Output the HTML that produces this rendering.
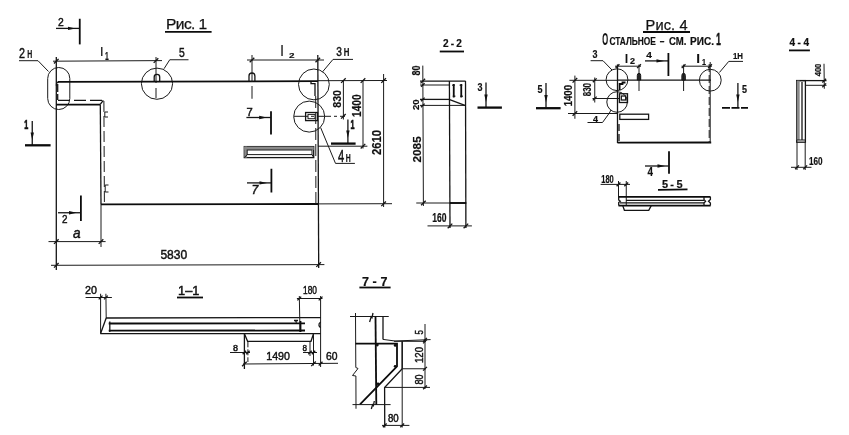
<!DOCTYPE html>
<html><head><meta charset="utf-8"><title>Рис. 1</title>
<style>
html,body{margin:0;padding:0;background:#fff;}
body{width:849px;height:435px;overflow:hidden;}
svg{display:block;filter:grayscale(1);}
text{font-family:"Liberation Sans","DejaVu Sans",sans-serif;fill:#111;stroke:#111;stroke-width:0.45px;}
.t{stroke:#1a1a1a;stroke-width:1;fill:none;}
.m{stroke:#151515;stroke-width:1.3;fill:none;}
.k{stroke:#0c0c0c;stroke-width:1.8;fill:none;}
.kk{stroke:#0c0c0c;stroke-width:2.3;fill:none;}
.f{fill:#111;stroke:none;}
.fk{fill:#333;stroke:#111;stroke-width:1;}
.g{fill:#8a8a8a;stroke:none;}
</style></head>
<body>
<svg width="849" height="435" viewBox="0 0 849 435">
<rect x="0" y="0" width="849" height="435" fill="#fff"/>
<g style="opacity:0.999">
<text x="166" y="29.4" textLength="41.25" lengthAdjust="spacing" style="font-size:15.55px;stroke-width:0.25px;">Рис. 1</text>
<line class="k" x1="165" y1="31.9" x2="211.6" y2="31.9"/>
<text x="58" y="25.6" textLength="5.75" lengthAdjust="spacingAndGlyphs" style="font-size:11.82px;">2</text>
<line class="m" x1="56" y1="28.4" x2="79.5" y2="28.4"/>
<path class="f" d="M68.0,26.7 L75.5,28.4 L68.0,30.099999999999998 Z"/>
<line class="k" x1="79.75" y1="18.75" x2="79.75" y2="44.4"/>
<text x="19" y="57.8" textLength="6.00" lengthAdjust="spacingAndGlyphs" style="font-size:14.60px;">2</text>
<text x="27.2" y="57.8" textLength="5.00" lengthAdjust="spacingAndGlyphs" style="font-size:11.39px;font-weight:bold;stroke-width:0.2px;">Н</text>
<path class="t" d="M19,60.7 L38,60.7 L48.5,71.5"/>
<rect class="t" x="47.7" y="67.5" width="22.1" height="42" rx="11" ry="11"/>
<line class="m" x1="56.3" y1="57" x2="56.3" y2="270"/>
<line class="t" x1="53" y1="61.2" x2="162" y2="60.6"/>
<line class="m" x1="54.0" y1="63.5" x2="58.599999999999994" y2="58.900000000000006"/>
<line class="m" x1="153.7" y1="62.9" x2="158.3" y2="58.300000000000004"/>
<text x="100.5" y="56.25" textLength="2.50" lengthAdjust="spacingAndGlyphs" style="font-size:13.00px;font-weight:bold;stroke-width:0.2px;">l</text>
<text x="105" y="60" textLength="3.75" lengthAdjust="spacingAndGlyphs" style="font-size:10.22px;font-weight:bold;stroke-width:0.2px;">1</text>
<circle class="t" cx="157" cy="83.7" r="15.6"/>
<line class="t" x1="156" y1="57" x2="156" y2="83"/>
<line class="t" x1="156" y1="88" x2="156" y2="98"/>
<path class="m" d="M154.2,82 L154.2,77 Q154.2,74.4 157,74.4 Q159.7,74.4 159.7,77 L159.7,82"/>
<text x="179" y="56.5" textLength="5.75" lengthAdjust="spacingAndGlyphs" style="font-size:13.14px;">5</text>
<path class="t" d="M188.5,59.75 L169.75,59.75 L164,68.75"/>
<line class="k" x1="58" y1="81.8" x2="318" y2="81.2"/>
<path class="m" d="M56.5,86 L56.5,84 Q56.5,82 59,81.8"/>
<line class="m" x1="58" y1="100.3" x2="102" y2="100.3" stroke-dasharray="12 4"/>
<line class="m" x1="57.7" y1="84" x2="57.7" y2="100" stroke-dasharray="8 2"/>
<line class="k" x1="56.3" y1="104.7" x2="100" y2="104.7"/>
<line class="m" x1="100" y1="104.7" x2="103.3" y2="100.3"/>
<line class="m" x1="100.3" y1="104.7" x2="101" y2="204.4"/>
<line class="t" x1="103.9" y1="101" x2="104.4" y2="204" stroke-dasharray="11 4"/>
<path class="t" d="M108,112 L104.8,112 L104.8,117 L108,117"/>
<path class="t" d="M108.5,185 L105.2,185 L105.2,192 L108.5,192"/>
<text x="24.3" y="129" textLength="4.00" lengthAdjust="spacingAndGlyphs" style="font-size:13.14px;font-weight:bold;stroke-width:0.2px;stroke-width:0.7px;">1</text>
<line class="m" x1="32.25" y1="121" x2="32.25" y2="145"/>
<path class="f" d="M30.55,132.5 L32.25,140 L33.95,132.5 Z"/>
<line class="kk" x1="25" y1="145.3" x2="50.6" y2="145.3"/>
<line class="k" x1="101" y1="204.3" x2="318.3" y2="204"/>
<line class="t" x1="318.3" y1="203.9" x2="392" y2="203.7"/>
<line class="k" x1="80.9" y1="195.6" x2="80.9" y2="221"/>
<line class="m" x1="58" y1="212.75" x2="80.5" y2="212.75"/>
<path class="f" d="M69.0,211.05 L76.5,212.75 L69.0,214.45 Z"/>
<text x="62" y="223" textLength="5.50" lengthAdjust="spacingAndGlyphs" style="font-size:11.68px;">2</text>
<text x="73" y="238" textLength="7.60" lengthAdjust="spacingAndGlyphs" style="font-size:14.50px;font-style:italic;">a</text>
<line class="t" x1="48.5" y1="241.6" x2="105.6" y2="241.6"/>
<line class="m" x1="54.0" y1="243.9" x2="58.599999999999994" y2="239.29999999999998"/>
<line class="m" x1="98.7" y1="243.9" x2="103.3" y2="239.29999999999998"/>
<line class="t" x1="101" y1="204.4" x2="101" y2="247"/>
<line class="t" x1="51" y1="265.3" x2="324.4" y2="264.6"/>
<line class="m" x1="54.0" y1="267.6" x2="58.599999999999994" y2="263.0"/>
<line class="m" x1="316.3" y1="266.90000000000003" x2="320.90000000000003" y2="262.3"/>
<text x="160.4" y="259.4" textLength="26.85" lengthAdjust="spacingAndGlyphs" style="font-size:12.85px;">5830</text>
<line class="m" x1="317.8" y1="55" x2="318.7" y2="268"/>
<line class="t" x1="315.7" y1="96" x2="315.9" y2="204" stroke-dasharray="12 4"/>
<line class="m" x1="315" y1="83" x2="315" y2="96"/>
<path class="m" d="M311,82 L311,83.6 L315,83.6"/>
<line class="t" x1="247" y1="60" x2="324" y2="60"/>
<line class="m" x1="249.7" y1="62.3" x2="254.3" y2="57.7"/>
<line class="m" x1="315.5" y1="62.3" x2="320.1" y2="57.7"/>
<line class="t" x1="252" y1="55" x2="252" y2="82"/>
<line class="t" x1="252" y1="86" x2="252" y2="98.75"/>
<path class="m" d="M249,81.5 L249,76 Q249,73 252,73 Q254.9,73 254.9,76 L254.9,81.5"/>
<text x="280.7" y="56.25" textLength="2.60" lengthAdjust="spacingAndGlyphs" style="font-size:15.50px;font-weight:bold;stroke-width:0.2px;">l</text>
<text x="289" y="58" textLength="5.50" lengthAdjust="spacingAndGlyphs" style="font-size:8.03px;font-weight:bold;stroke-width:0.2px;">2</text>
<circle class="t" cx="313.9" cy="84.4" r="15.4"/>
<text x="336.25" y="56.25" textLength="5.65" lengthAdjust="spacingAndGlyphs" style="font-size:13.65px;">3</text>
<text x="343.75" y="56.25" textLength="5.65" lengthAdjust="spacingAndGlyphs" style="font-size:10.00px;font-weight:bold;stroke-width:0.2px;">Н</text>
<path class="t" d="M353,59.4 L333,59.4 L322.5,71.9"/>
<circle class="t" cx="309.2" cy="116.6" r="15.5"/>
<line class="t" x1="294" y1="116.3" x2="345" y2="116.3" stroke-dasharray="14 3 3 3"/>
<rect class="m" x="305.6" y="112.5" width="11.9" height="8.1"/>
<rect class="t" x="308" y="114.4" width="7" height="4.3"/>
<path class="t" d="M320.6,127.5 L335.5,163.4 L354.9,163.4"/>
<text x="338" y="161.6" textLength="6.25" lengthAdjust="spacingAndGlyphs" style="font-size:16.50px;">4</text>
<text x="345.8" y="161.6" textLength="5.00" lengthAdjust="spacingAndGlyphs" style="font-size:11.09px;font-weight:bold;stroke-width:0.2px;">Н</text>
<line class="t" x1="318" y1="80.7" x2="387" y2="80.5"/>
<line class="t" x1="343.4" y1="80.6" x2="343.4" y2="119.5"/>
<line class="m" x1="341.09999999999997" y1="82.89999999999999" x2="345.7" y2="78.3"/>
<line class="m" x1="341.09999999999997" y1="118.6" x2="345.7" y2="114.0"/>
<line class="t" x1="363" y1="80.6" x2="363" y2="148.5"/>
<line class="m" x1="360.7" y1="82.89999999999999" x2="365.3" y2="78.3"/>
<line class="m" x1="360.7" y1="148.5" x2="365.3" y2="143.89999999999998"/>
<line class="t" x1="383.6" y1="74" x2="383.6" y2="207"/>
<line class="m" x1="381.3" y1="82.89999999999999" x2="385.90000000000003" y2="78.3"/>
<line class="m" x1="381.3" y1="206.10000000000002" x2="385.90000000000003" y2="201.5"/>
<line class="t" x1="318" y1="146.2" x2="367.4" y2="146.2"/>
<text transform="translate(340.6,107.75) rotate(-90)" x="0" y="0" textLength="17.75" lengthAdjust="spacingAndGlyphs" style="font-size:11.09px;font-weight:bold;stroke-width:0.2px;">830</text>
<text transform="translate(360.6,116.9) rotate(-90)" x="0" y="0" textLength="22.50" lengthAdjust="spacingAndGlyphs" style="font-size:12.19px;font-weight:bold;stroke-width:0.2px;">1400</text>
<text transform="translate(381.25,155) rotate(-90)" x="0" y="0" textLength="25.00" lengthAdjust="spacingAndGlyphs" style="font-size:12.04px;font-weight:bold;stroke-width:0.2px;">2610</text>
<line class="m" x1="347.9" y1="119.4" x2="347.9" y2="143"/>
<path class="f" d="M346.2,130.5 L347.9,138 L349.59999999999997,130.5 Z"/>
<text x="350.6" y="129.4" textLength="4.00" lengthAdjust="spacingAndGlyphs" style="font-size:12.85px;font-weight:bold;stroke-width:0.2px;stroke-width:0.7px;">1</text>
<line class="kk" x1="331" y1="143.6" x2="355.6" y2="143.6"/>
<rect class="m" x="244.3" y="146.6" width="69.4" height="11"/>
<rect class="g" x="244.3" y="146.6" width="69.4" height="3.3"/>
<rect class="g" x="244.3" y="146.6" width="2.8" height="11"/>
<rect class="t" x="247.2" y="150" width="64.8" height="4.6"/>
<line class="t" x1="244.3" y1="157.6" x2="247.2" y2="154.6"/>
<line class="t" x1="313.7" y1="157.6" x2="312" y2="154.6"/>
<text x="246.4" y="115.6" textLength="6.20" lengthAdjust="spacingAndGlyphs" style="font-size:11.09px;">7</text>
<line class="m" x1="246.4" y1="117.5" x2="270.7" y2="117.5"/>
<path class="f" d="M259.2,115.8 L266.7,117.5 L259.2,119.2 Z"/>
<line class="k" x1="271" y1="111.25" x2="271" y2="134.4"/>
<line class="k" x1="271.4" y1="168.75" x2="271.4" y2="192.5"/>
<line class="m" x1="247" y1="182.9" x2="271" y2="182.9"/>
<path class="f" d="M259.5,181.20000000000002 L267,182.9 L259.5,184.6 Z"/>
<text x="251.4" y="193.5" textLength="6.85" lengthAdjust="spacingAndGlyphs" style="font-size:12.41px;font-style:italic;">7</text>
<text x="443" y="46.9" textLength="18.90" lengthAdjust="spacing" style="font-size:10.07px;font-weight:bold;stroke-width:0.2px;">2-2</text>
<line class="k" x1="439.75" y1="51.5" x2="464" y2="51.5"/>
<text transform="translate(420,75.6) rotate(-90)" x="0" y="0" textLength="10.00" lengthAdjust="spacingAndGlyphs" style="font-size:11.82px;font-weight:bold;stroke-width:0.2px;">80</text>
<text transform="translate(418.5,110) rotate(-90)" x="0" y="0" textLength="10.60" lengthAdjust="spacingAndGlyphs" style="font-size:9.64px;font-weight:bold;stroke-width:0.2px;">20</text>
<text transform="translate(420.6,162.5) rotate(-90)" x="0" y="0" textLength="26.25" lengthAdjust="spacingAndGlyphs" style="font-size:11.82px;font-weight:bold;stroke-width:0.2px;">2085</text>
<line class="t" x1="422.8" y1="65.6" x2="423.4" y2="206"/>
<line class="m" x1="420" y1="81.1" x2="465.6" y2="81.1"/>
<line class="m" x1="420.5" y1="83.39999999999999" x2="425.1" y2="78.8"/>
<line class="t" x1="420" y1="85" x2="449" y2="85"/>
<line class="m" x1="421.0" y1="86.8" x2="424.6" y2="83.2"/>
<line class="m" x1="420" y1="99.4" x2="449" y2="99.4"/>
<line class="m" x1="421.0" y1="101.2" x2="424.6" y2="97.60000000000001"/>
<line class="t" x1="420" y1="105.4" x2="465.6" y2="105.4"/>
<line class="m" x1="421.0" y1="107.2" x2="424.6" y2="103.60000000000001"/>
<line class="m" x1="449.4" y1="81" x2="450" y2="228"/>
<line class="m" x1="465.5" y1="81" x2="465.9" y2="228"/>
<line class="m" x1="449" y1="99.4" x2="465.6" y2="105.6"/>
<line class="k" x1="453.75" y1="84" x2="453.75" y2="97.5"/>
<line class="m" x1="452.15" y1="85.2" x2="454.75" y2="85.2"/>
<line class="m" x1="452.75" y1="96.2" x2="455.35" y2="96.2"/>
<line class="k" x1="461.25" y1="84" x2="461.25" y2="97.5"/>
<line class="m" x1="459.65" y1="85.2" x2="462.25" y2="85.2"/>
<line class="m" x1="460.25" y1="96.2" x2="462.85" y2="96.2"/>
<line class="t" x1="416.25" y1="203" x2="466.6" y2="203"/>
<line class="k" x1="449.75" y1="203" x2="466" y2="203"/>
<line class="m" x1="421.09999999999997" y1="205.3" x2="425.7" y2="200.7"/>
<line class="t" x1="427.5" y1="225.9" x2="471.9" y2="225.9"/>
<line class="m" x1="447.7" y1="228.20000000000002" x2="452.3" y2="223.6"/>
<line class="m" x1="463.59999999999997" y1="228.20000000000002" x2="468.2" y2="223.6"/>
<text x="432.25" y="222.25" textLength="14.25" lengthAdjust="spacingAndGlyphs" style="font-size:12.04px;font-weight:bold;stroke-width:0.2px;">160</text>
<text x="477.5" y="90.6" textLength="5.00" lengthAdjust="spacingAndGlyphs" style="font-size:10.00px;font-weight:bold;stroke-width:0.2px;">3</text>
<line class="m" x1="486" y1="82.5" x2="486" y2="107"/>
<path class="f" d="M484.3,94.5 L486,102 L487.7,94.5 Z"/>
<line class="kk" x1="477.5" y1="107.6" x2="501.9" y2="107.6"/>
<text x="645.6" y="30" textLength="41.90" lengthAdjust="spacing" style="font-size:14.60px;stroke-width:0.25px;">Рис. 4</text>
<line class="k" x1="643" y1="32" x2="690" y2="32"/>
<text x="602.2" y="44.8" textLength="5.90" lengthAdjust="spacingAndGlyphs" style="font-size:15.91px;font-weight:bold;stroke-width:0.2px;">О</text>
<text x="609.4" y="44.8" textLength="46.50" lengthAdjust="spacingAndGlyphs" style="font-size:10.22px;font-weight:bold;stroke-width:0.2px;">СТАЛЬНОЕ</text>
<text x="659.8" y="44.8" textLength="4.60" lengthAdjust="spacingAndGlyphs" style="font-size:10.22px;font-weight:bold;stroke-width:0.2px;">–</text>
<text x="669.1" y="44.8" textLength="17.40" lengthAdjust="spacingAndGlyphs" style="font-size:10.22px;font-weight:bold;stroke-width:0.2px;">СМ.</text>
<text x="690.1" y="44.8" textLength="23.90" lengthAdjust="spacingAndGlyphs" style="font-size:10.22px;font-weight:bold;stroke-width:0.2px;">РИС.</text>
<text x="716.3" y="44.8" textLength="4.50" lengthAdjust="spacingAndGlyphs" style="font-size:15.91px;font-weight:bold;stroke-width:0.2px;stroke-width:0.7px;">1</text>
<text x="537.5" y="92.5" textLength="5.00" lengthAdjust="spacingAndGlyphs" style="font-size:10.95px;font-weight:bold;stroke-width:0.2px;">5</text>
<line class="m" x1="546" y1="83" x2="546" y2="107.5"/>
<path class="f" d="M544.3,95.0 L546,102.5 L547.7,95.0 Z"/>
<line class="kk" x1="536" y1="108.2" x2="560.6" y2="108.2"/>
<line class="t" x1="569.4" y1="80.3" x2="617" y2="80.3"/>
<line class="t" x1="574.9" y1="75.6" x2="574.9" y2="118.75"/>
<line class="m" x1="572.6" y1="82.6" x2="577.1999999999999" y2="78.0"/>
<line class="m" x1="572.6" y1="115.8" x2="577.1999999999999" y2="111.2"/>
<line class="t" x1="594.75" y1="77.5" x2="594.75" y2="102.5"/>
<line class="m" x1="592.85" y1="82.2" x2="596.65" y2="78.39999999999999"/>
<line class="m" x1="592.85" y1="100.4" x2="596.65" y2="96.6"/>
<line class="t" x1="592.5" y1="98.5" x2="619" y2="98.5"/>
<line class="t" x1="568" y1="113.5" x2="617.5" y2="113.5"/>
<text transform="translate(571.9,106.25) rotate(-90)" x="0" y="0" textLength="21.25" lengthAdjust="spacingAndGlyphs" style="font-size:10.07px;font-weight:bold;stroke-width:0.2px;">1400</text>
<text transform="translate(591.25,96.25) rotate(-90)" x="0" y="0" textLength="13.25" lengthAdjust="spacingAndGlyphs" style="font-size:10.00px;font-weight:bold;stroke-width:0.2px;">830</text>
<text x="592.5" y="58" textLength="5.00" lengthAdjust="spacingAndGlyphs" style="font-size:10.80px;font-weight:bold;stroke-width:0.2px;">3</text>
<path class="t" d="M590.6,60.7 L603,60.7 L612,70"/>
<circle class="t" cx="617" cy="79.7" r="10.9"/>
<circle class="t" cx="617.1" cy="102" r="10.3"/>
<text x="593" y="121.9" textLength="5.00" lengthAdjust="spacingAndGlyphs" style="font-size:8.25px;font-weight:bold;stroke-width:0.2px;">4</text>
<path class="t" d="M587.5,122.5 L602.5,122.5 L609.4,113 L611,110"/>
<line class="m" x1="617.5" y1="64.4" x2="617.5" y2="143"/>
<line class="m" x1="619" y1="124" x2="619" y2="141" stroke-dasharray="7 3"/>
<line class="m" x1="617" y1="80.1" x2="711" y2="80.1"/>
<line class="k" x1="617.5" y1="142.7" x2="711.2" y2="142.5"/>
<line class="t" x1="710.2" y1="62" x2="710.2" y2="143"/>
<line class="t" x1="709.2" y1="64" x2="709.2" y2="143" stroke-dasharray="8 3"/>
<path class="k" d="M619.6,90 L619.6,84 L622.5,84 L622.5,82.5 L625.5,82.5"/>
<rect class="m" x="619.4" y="93.75" width="8.1" height="8.75"/>
<rect class="m" x="621.3" y="96" width="4.4" height="4"/>
<line class="t" x1="615" y1="66.2" x2="641" y2="66.2"/>
<line class="m" x1="615.6" y1="68.10000000000001" x2="619.4" y2="64.3"/>
<line class="m" x1="637.1" y1="68.10000000000001" x2="640.9" y2="64.3"/>
<text x="625" y="62.5" textLength="3.00" lengthAdjust="spacingAndGlyphs" style="font-size:12.00px;font-weight:bold;stroke-width:0.2px;">l</text>
<text x="630" y="64" textLength="5.00" lengthAdjust="spacingAndGlyphs" style="font-size:8.76px;font-weight:bold;stroke-width:0.2px;">2</text>
<path class="fk" d="M637.3,80 L637.3,75.5 Q637.3,73.3 639,73.3 Q640.7,73.3 640.7,75.5 L640.7,80 Z"/>
<line class="t" x1="639" y1="64.5" x2="639" y2="91"/>
<path class="fk" d="M681.9,80 L681.9,75.5 Q681.9,73.3 683.6,73.3 Q685.3000000000001,73.3 685.3000000000001,75.5 L685.3000000000001,80 Z"/>
<line class="t" x1="683.6" y1="64.5" x2="683.6" y2="91"/>
<text x="646.25" y="58" textLength="5.65" lengthAdjust="spacingAndGlyphs" style="font-size:8.91px;font-weight:bold;stroke-width:0.2px;">4</text>
<line class="m" x1="645" y1="60.9" x2="668" y2="60.9"/>
<path class="f" d="M656.5,59.199999999999996 L664,60.9 L656.5,62.6 Z"/>
<line class="k" x1="668.4" y1="53" x2="668.4" y2="76"/>
<line class="t" x1="681.5" y1="66.2" x2="712" y2="66.2"/>
<line class="m" x1="681.7" y1="68.10000000000001" x2="685.5" y2="64.3"/>
<line class="m" x1="708.1" y1="68.10000000000001" x2="711.9" y2="64.3"/>
<text x="696.25" y="62.5" textLength="3.75" lengthAdjust="spacingAndGlyphs" style="font-size:12.00px;font-weight:bold;stroke-width:0.2px;">l</text>
<text x="702" y="65" textLength="4.00" lengthAdjust="spacingAndGlyphs" style="font-size:8.18px;font-weight:bold;stroke-width:0.2px;">1</text>
<circle class="t" cx="710.3" cy="80.2" r="10.9"/>
<path class="t" d="M743,61.4 L728.75,61.4 L719.4,72.5"/>
<text x="733" y="58.75" textLength="10.00" lengthAdjust="spacingAndGlyphs" style="font-size:8.39px;font-weight:bold;stroke-width:0.2px;">1Н</text>
<text x="741.9" y="92.5" textLength="5.00" lengthAdjust="spacingAndGlyphs" style="font-size:10.07px;font-weight:bold;stroke-width:0.2px;">5</text>
<line class="m" x1="737.9" y1="83" x2="737.9" y2="107"/>
<path class="f" d="M736.1999999999999,94.5 L737.9,102 L739.6,94.5 Z"/>
<line class="k" x1="722" y1="107.8" x2="748" y2="107.8" stroke-dasharray="8 1.5"/>
<rect class="m" x="619.8" y="114.2" width="28.8" height="5.2"/>
<line class="k" x1="669" y1="151.25" x2="669" y2="173.75"/>
<line class="m" x1="645" y1="166" x2="669" y2="166"/>
<path class="f" d="M657.5,164.3 L665,166 L657.5,167.7 Z"/>
<text x="647.5" y="176.25" textLength="5.50" lengthAdjust="spacingAndGlyphs" style="font-size:12.04px;font-weight:bold;stroke-width:0.2px;">4</text>
<text x="601.25" y="182.5" textLength="12.50" lengthAdjust="spacingAndGlyphs" style="font-size:10.07px;font-weight:bold;stroke-width:0.2px;">180</text>
<line class="t" x1="600.6" y1="184.4" x2="630" y2="184.4"/>
<line class="m" x1="616.6" y1="186.3" x2="620.4" y2="182.5"/>
<line class="m" x1="624.35" y1="186.3" x2="628.15" y2="182.5"/>
<line class="t" x1="618.5" y1="181" x2="618.5" y2="197"/>
<line class="t" x1="626.25" y1="181" x2="626.25" y2="205"/>
<text x="661.9" y="187.5" textLength="20.60" lengthAdjust="spacing" style="font-size:10.95px;font-weight:bold;stroke-width:0.2px;">5-5</text>
<line class="k" x1="658" y1="189.8" x2="687.5" y2="189.4"/>
<line class="k" x1="618.5" y1="196.9" x2="710.6" y2="196.9"/>
<line class="m" x1="626" y1="200.3" x2="704" y2="200.3"/>
<line class="m" x1="620" y1="202.9" x2="704" y2="202.9"/>
<line class="k" x1="618.5" y1="205.6" x2="710.6" y2="205.6"/>
<path class="m" d="M618.7,196.9 L618.7,200 L620.3,201.3 L618.7,202.6 L618.7,205.6"/>
<path class="m" d="M710.4,196.9 L710.4,199.5 L708.5,201.2 L710.4,203 L710.4,205.6"/>
<path class="m" d="M704,197 L704,199.6 L705.6,201.2 L704,203 L704,205.6"/>
<path class="m" d="M622.75,205.6 L624.4,210.3 L648.75,210.3 L651.25,205.6"/>
<text x="789.5" y="46.25" textLength="19.50" lengthAdjust="spacing" style="font-size:10.00px;font-weight:bold;stroke-width:0.2px;">4-4</text>
<line class="k" x1="789" y1="50.4" x2="809.9" y2="50.4"/>
<text transform="translate(821,76.25) rotate(-90)" x="0" y="0" textLength="12.50" lengthAdjust="spacingAndGlyphs" style="font-size:9.49px;font-weight:bold;stroke-width:0.2px;">400</text>
<line class="t" x1="824" y1="63.75" x2="824.3" y2="88.75"/>
<line class="m" x1="796" y1="80.6" x2="826.5" y2="80.6"/>
<line class="m" x1="822.3000000000001" y1="82.5" x2="826.1" y2="78.69999999999999"/>
<line class="t" x1="806" y1="85.3" x2="826.5" y2="85.3"/>
<line class="m" x1="822.3000000000001" y1="87.2" x2="826.1" y2="83.39999999999999"/>
<rect class="m" x="796.7" y="80.6" width="8.7" height="61.6"/>
<rect class="g" x="796.7" y="80.6" width="3" height="59.5"/>
<line class="m" x1="802" y1="82" x2="802" y2="140"/>
<line class="t" x1="797" y1="140" x2="805.4" y2="140"/>
<line class="t" x1="797" y1="142.2" x2="797" y2="170"/>
<line class="t" x1="805.2" y1="142.2" x2="805.2" y2="170"/>
<line class="t" x1="791" y1="167.3" x2="811.5" y2="167.3"/>
<line class="m" x1="795.1" y1="169.20000000000002" x2="798.9" y2="165.4"/>
<line class="m" x1="803.3000000000001" y1="169.20000000000002" x2="807.1" y2="165.4"/>
<text x="809" y="165.25" textLength="13.60" lengthAdjust="spacingAndGlyphs" style="font-size:10.95px;font-weight:bold;stroke-width:0.2px;">160</text>
<text x="85" y="293.5" textLength="11.90" lengthAdjust="spacingAndGlyphs" style="font-size:10.95px;">20</text>
<line class="t" x1="85.6" y1="297.5" x2="111.9" y2="297.5"/>
<line class="m" x1="98.69999999999999" y1="299.4" x2="102.5" y2="295.6"/>
<line class="m" x1="104.0" y1="299.4" x2="107.80000000000001" y2="295.6"/>
<line class="t" x1="100.6" y1="293.75" x2="100.6" y2="333.5"/>
<line class="t" x1="105.9" y1="293.75" x2="106.2" y2="318"/>
<text x="178" y="295" textLength="21.40" lengthAdjust="spacing" style="font-size:12.77px;">1–1</text>
<line class="k" x1="177" y1="297.5" x2="203" y2="297.5"/>
<line class="m" x1="106" y1="318" x2="321" y2="317.6"/>
<line class="k" x1="108.7" y1="323.5" x2="305" y2="323.3"/>
<line class="k" x1="108.7" y1="330.6" x2="305" y2="330.5"/>
<line class="m" x1="100.3" y1="333.6" x2="320.8" y2="333.7"/>
<line class="m" x1="106.2" y1="318" x2="100.6" y2="333.5"/>
<line class="m" x1="109.8" y1="321.5" x2="109.8" y2="332"/>
<text x="303" y="294" textLength="13.90" lengthAdjust="spacingAndGlyphs" style="font-size:10.36px;">180</text>
<line class="t" x1="296.9" y1="298.5" x2="322.5" y2="298.5"/>
<line class="m" x1="297.40000000000003" y1="300.4" x2="301.2" y2="296.6"/>
<line class="m" x1="318.70000000000005" y1="300.4" x2="322.5" y2="296.6"/>
<line class="t" x1="299.3" y1="296" x2="300" y2="332"/>
<line class="t" x1="320.6" y1="296" x2="320.6" y2="367"/>
<path class="m" d="M320.6,322 Q318.5,323.5 319,325.5 Q319.4,327 320.6,327.5"/>
<path class="k" d="M300.5,321 L300.5,332"/>
<path class="m" d="M294,320.5 L298,320.5 M295.5,320.5 L296.5,322.8"/>
<path class="m" d="M244.4,333.7 L247.6,341.3 L311,341.3 L313.5,333.7"/>
<line class="m" x1="244.4" y1="333.7" x2="244.4" y2="369"/>
<line class="t" x1="247.9" y1="341.3" x2="247.9" y2="362" stroke-dasharray="6 2"/>
<line class="t" x1="310" y1="341.3" x2="310" y2="356"/>
<line class="t" x1="313.5" y1="333.7" x2="313.5" y2="365.5"/>
<text x="233" y="350.6" textLength="5.00" lengthAdjust="spacingAndGlyphs" style="font-size:8.54px;">8</text>
<text x="302.5" y="350.6" textLength="4.50" lengthAdjust="spacingAndGlyphs" style="font-size:8.54px;">8</text>
<line class="t" x1="230" y1="352.5" x2="250" y2="352.5"/>
<line class="m" x1="242.70000000000002" y1="354.2" x2="246.1" y2="350.8"/>
<line class="m" x1="246.20000000000002" y1="354.2" x2="249.6" y2="350.8"/>
<line class="t" x1="303" y1="352.5" x2="317" y2="352.5"/>
<line class="m" x1="308.3" y1="354.2" x2="311.7" y2="350.8"/>
<line class="m" x1="311.8" y1="354.2" x2="315.2" y2="350.8"/>
<text x="266.25" y="360" textLength="23.75" lengthAdjust="spacingAndGlyphs" style="font-size:11.68px;">1490</text>
<line class="t" x1="243" y1="364" x2="338" y2="363.3"/>
<line class="m" x1="242.1" y1="366.3" x2="246.70000000000002" y2="361.7"/>
<line class="m" x1="311.2" y1="366.1" x2="315.8" y2="361.5"/>
<line class="m" x1="318.70000000000005" y1="365.5" x2="322.5" y2="361.70000000000005"/>
<text x="326" y="360" textLength="11.50" lengthAdjust="spacingAndGlyphs" style="font-size:10.95px;">60</text>
<text x="361.9" y="285.6" textLength="25.60" lengthAdjust="spacing" style="font-size:12.55px;font-weight:bold;stroke-width:0.2px;">7-7</text>
<line class="k" x1="359.4" y1="287.5" x2="390.6" y2="287.5"/>
<line class="t" x1="350" y1="316.5" x2="388.75" y2="316.5"/>
<path class="m" d="M369.6,322 L371.2,316.8 L372,317.6 L373,313"/>
<line class="t" x1="355.5" y1="313" x2="355.8" y2="367.5"/>
<line class="t" x1="355.9" y1="376" x2="356" y2="408.75"/>
<path class="t" d="M355.8,367.5 L358,368.5 L352.5,375.5 L355.9,376"/>
<line class="k" x1="375.5" y1="316.5" x2="376.3" y2="405"/>
<line class="m" x1="383" y1="316.5" x2="383" y2="339.4"/>
<path class="t" d="M383,339.4 L395,341 L430.6,339.6"/>
<line class="t" x1="394" y1="341.3" x2="426" y2="341.3"/>
<path class="k" d="M355.5,343.7 L397,343.7 L397,366.5 L360,404.4"/>
<line class="t" x1="402.2" y1="341.3" x2="402.2" y2="427.5"/>
<line class="m" x1="402.2" y1="341.3" x2="402.2" y2="368.75"/>
<path class="m" d="M402.2,368.75 L384.6,387.5 L384.75,427.5"/>
<line class="t" x1="402.2" y1="368.75" x2="426" y2="368.75"/>
<line class="t" x1="384.6" y1="387.4" x2="430" y2="387.4"/>
<line class="t" x1="425" y1="324" x2="425" y2="389"/>
<line class="m" x1="423.1" y1="341.7" x2="426.9" y2="337.90000000000003"/>
<line class="m" x1="423.1" y1="343.4" x2="426.9" y2="339.6"/>
<line class="m" x1="423.1" y1="370.65" x2="426.9" y2="366.85"/>
<line class="m" x1="423.1" y1="389.29999999999995" x2="426.9" y2="385.5"/>
<circle class="f" cx="395.2" cy="345.4" r="1.4"/>
<circle class="f" cx="395.2" cy="366.3" r="1.4"/>
<circle class="f" cx="378" cy="383.8" r="1.4"/>
<circle class="f" cx="377.3" cy="345" r="1.4"/>
<text transform="translate(422.5,334.4) rotate(-90)" x="0" y="0" textLength="4.40" lengthAdjust="spacingAndGlyphs" style="font-size:10.07px;">5</text>
<text transform="translate(422.5,363) rotate(-90)" x="0" y="0" textLength="16.00" lengthAdjust="spacingAndGlyphs" style="font-size:10.07px;">120</text>
<text transform="translate(422.5,384.4) rotate(-90)" x="0" y="0" textLength="10.00" lengthAdjust="spacingAndGlyphs" style="font-size:10.07px;">80</text>
<line class="t" x1="352.5" y1="404.6" x2="390.6" y2="404.6"/>
<path class="m" d="M371.3,409 L372.6,404.8 L373.4,405.6 L374.3,401"/>
<text x="388" y="422" textLength="10.75" lengthAdjust="spacingAndGlyphs" style="font-size:10.22px;">80</text>
<line class="t" x1="382" y1="425.4" x2="409.4" y2="425.4"/>
<line class="m" x1="382.85" y1="427.29999999999995" x2="386.65" y2="423.5"/>
<line class="m" x1="400.3" y1="427.29999999999995" x2="404.09999999999997" y2="423.5"/>
</g>
</svg>
</body></html>
